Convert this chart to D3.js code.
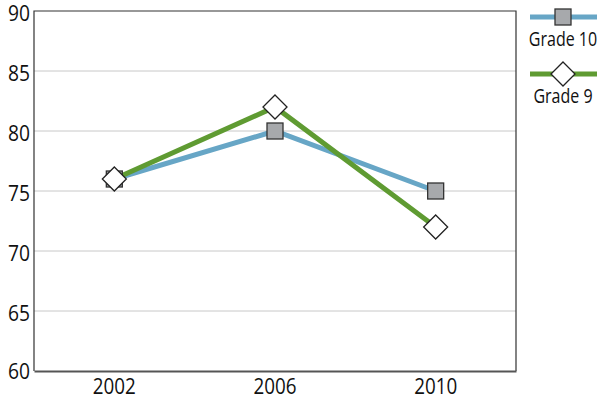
<!DOCTYPE html>
<html lang="en">
<head>
<meta charset="utf-8" />
<title>Grade 10 vs Grade 9</title>
<style>
   body { margin:0; background:#fff; }
   text { font-family:"Open Sans", sans-serif; fill:#111; }
</style>
<script src="https://d3js.org/d3.v7.min.js"></script>
</head>
<body>
<svg id="main" width="600" height="400"></svg>
<script>
var years = ['2002','2006','2010'];
var grade10 = [76, 80, 75];
var grade9 = [76, 82, 72];
var yticks = [60, 65, 70, 75, 80, 85, 90];

var series = [
   {name:'Grade 10', values:grade10, color:'#67a6c6', symbol:'square'},
   {name:'Grade 9', values:grade9, color:'#5f9b32', symbol:'diamond'}
];

var m = {left:34, right:516, top:11, bottom:371};
var svg = d3.select('#main');

var x = d3.scaleBand().domain(years).range([m.left, m.right]).padding(0);
var y = d3.scaleLinear().domain([60, 90]).range([m.bottom, m.top]);

// gridlines
svg.append('g')
   .selectAll('line')
   .data(yticks.filter(d => d > 60 && d < 90))
   .enter().append('line')
   .attr('x1', m.left).attr('x2', m.right)
   .attr('y1', d => y(d)).attr('y2', d => y(d))
   .attr('stroke', '#c8c8c8').attr('stroke-width', 1);

// frame
svg.append('path')
   .attr('d', 'M' + m.left + ',' + m.bottom + 'V' + m.top + 'H' + m.right + 'V' + m.bottom)
   .attr('fill', 'none').attr('stroke', '#333').attr('stroke-width', 1.2);

// y axis labels (narrow-looking font: squeeze glyphs a bit)
var yAxis = d3.axisLeft(y).tickValues(yticks).tickSize(0).tickPadding(4);
var gy = svg.append('g').attr('transform', 'translate(' + m.left + ',0)').call(yAxis);
gy.select('.domain').remove();
gy.selectAll('text').style('font-size', '21px').attr('fill', '#111')
   .attr('dy', '0.35em')
   .attr('y', d => d === 60 ? 0 : 2)
   .attr('textLength', 22).attr('lengthAdjust', 'spacingAndGlyphs');

// x axis
var xAxis = d3.axisBottom(x).tickSize(0).tickPadding(7);
var gx = svg.append('g').attr('transform', 'translate(0,' + m.bottom + ')').call(xAxis);
gx.select('.domain').attr('stroke', '#555').attr('stroke-width', 2.2);
gx.selectAll('text').style('font-size', '22px').attr('fill', '#111')
   .attr('textLength', 43).attr('lengthAdjust', 'spacingAndGlyphs');

var line = d3.line()
   .x((d, i) => x(years[i]) + x.bandwidth() / 2)
   .y(d => y(d));

// lines
svg.append('g').selectAll('path')
   .data(series)
   .enter().append('path')
   .attr('d', d => line(d.values))
   .attr('fill', 'none')
   .attr('stroke', d => d.color)
   .attr('stroke-width', 5);

function drawMarker(g, sym, cx, cy) {
   if (sym === 'square') {
      g.append('rect')
         .attr('x', cx - 8).attr('y', cy - 8)
         .attr('width', 16).attr('height', 16)
         .attr('fill', '#a7a9ac').attr('stroke', '#333').attr('stroke-width', 1.3);
   } else {
      g.append('path')
         .attr('d', 'M' + cx + ',' + (cy - 12) + 'L' + (cx + 12) + ',' + cy + 'L' + cx + ',' + (cy + 12) + 'L' + (cx - 12) + ',' + cy + 'Z')
         .attr('fill', '#fff').attr('stroke', '#222').attr('stroke-width', 1.3);
   }
}

// markers
var gm = svg.append('g');
series.forEach(function(s) {
   s.values.forEach(function(v, i) {
      drawMarker(gm, s.symbol, x(years[i]) + x.bandwidth() / 2, y(v));
   });
});

// legend
var lg = svg.append('g');
series.forEach(function(s, i) {
   var ly = 17 + i * 57;
   lg.append('line')
      .attr('x1', 530).attr('x2', 597)
      .attr('y1', ly).attr('y2', ly)
      .attr('stroke', s.color).attr('stroke-width', 5);
   drawMarker(lg, s.symbol, 563, ly);
   lg.append('text')
      .attr('transform', 'translate(563,' + (ly + 29) + ') scale(0.8,1)')
      .attr('text-anchor', 'middle')
      .style('font-size', '20px')
      .text(s.name);
});
</script>
</body>
</html>
